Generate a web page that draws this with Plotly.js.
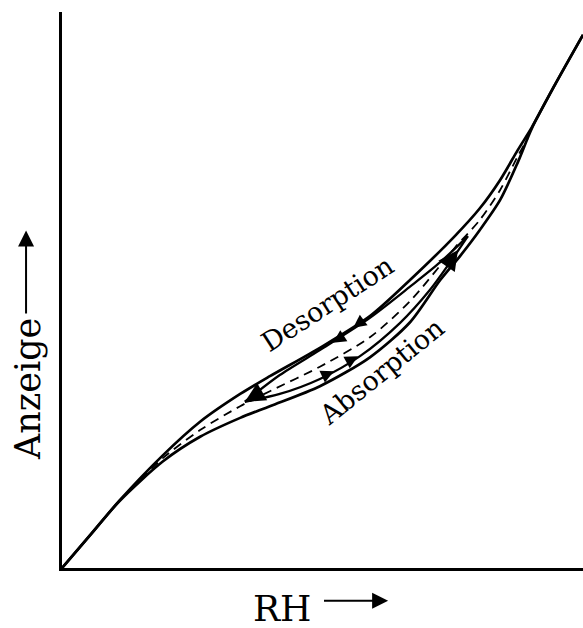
<!DOCTYPE html>
<html>
<head>
<meta charset="utf-8">
<script src="https://cdn.plot.ly/plotly-3.0.1.min.js"></script>
<style>html,body{margin:0;padding:0;background:#fff;}#chart{width:583px;height:628px;}</style>
</head>
<body>
<div id="chart"></div>
<script>
// Relative humidity (x, 0..100) and indicator reading (y, 0..100)
const desOuterX = [0, 5.4, 11.1, 19.4, 26.5, 34.2, 39.9, 49.5, 59.1, 66.8, 75.4, 80.2, 84.1, 87.5, 90.2, 94.6, 100];
const desOuterY = [0, 5.9, 12.2, 20.3, 26.3, 31.3, 34.5, 39.6, 45.3, 51.8, 59.7, 64.7, 69.8, 75.2, 79.3, 86.9, 95.9];
const absOuterX = [0, 5.4, 11.1, 19.4, 26.5, 34.2, 39.9, 49.5, 59.1, 66.8, 72.6, 76.4, 80.2, 84.1, 87.5, 90.2, 94.6, 100];
const absOuterY = [0, 5.9, 12.1, 19.2, 23.6, 27.0, 29.1, 32.7, 37.9, 44.2, 51.8, 56.1, 60.8, 66.2, 73.0, 79.1, 86.9, 95.9];
const midX = [13.1, 19.4, 26.5, 34.2, 39.9, 49.5, 59.1, 66.8, 75.4, 80.2, 84.1, 87.5, 89.4];
const midY = [14.0, 19.8, 24.8, 29.1, 31.8, 36.2, 41.5, 48.0, 57.6, 62.6, 68.0, 74.1, 77.3];
const desInnerX = [77.9, 72.6, 66.8, 59.1, 49.5, 41.8, 35.1];
const desInnerY = [59.7, 55.0, 50.6, 45.0, 39.2, 34.7, 29.9];
const absInnerX = [35.1, 41.8, 49.5, 57.2, 64.9, 70.6, 74.5, 77.9];
const absInnerY = [29.9, 31.3, 34.0, 38.1, 44.1, 50.0, 55.0, 59.7];
// arrow heads [headX, headY, tailX, tailY, size]
const desArrows = [[52.0, 40.5, 54.3, 41.9, 1.3], [55.9, 43.2, 58.2, 44.8, 1.3], [35.1, 29.9, 38.4, 31.7, 2.0]];
const absArrows = [[52.2, 35.4, 49.9, 34.4, 1.3], [56.8, 38.1, 54.5, 36.9, 1.3], [76.0, 57.2, 74.3, 54.9, 2.0]];
const labels = ["Desorption", "Absorption", "Anzeige", "RH"];

const serif = "DejaVu Serif, Liberation Serif, serif";
const line = (x, y, w, dash) => ({x, y, type: "scatter", mode: "lines", line: {color: "#000", width: w, dash: dash || "solid", shape: "spline", smoothing: 0.8}, hoverinfo: "skip", showlegend: false});

const data = [
  line(desOuterX, desOuterY, 2.7),
  line(absOuterX, absOuterY, 2.7),
  line(midX, midY, 1.8, "9px,6px"),
  line(desInnerX, desInnerY, 2.3),
  line(absInnerX, absInnerY, 2.3)
];

const ann = [];
[...desArrows, ...absArrows].forEach(a => ann.push({
  x: a[0], y: a[1], ax: a[2], ay: a[3], xref: "x", yref: "y", axref: "x", ayref: "y",
  text: "", showarrow: true, arrowhead: 2, arrowsize: a[4], arrowwidth: 2, arrowcolor: "#000"
}));
ann.push({x: 51.0, y: 47.5, xref: "x", yref: "y", xanchor: "center", yanchor: "middle", text: labels[0], showarrow: false, textangle: -33, font: {family: serif, size: 27, color: "#000"}});
ann.push({x: 61.3, y: 35.3, xref: "x", yref: "y", xanchor: "center", yanchor: "middle", text: labels[1], showarrow: false, textangle: -39, font: {family: serif, size: 27, color: "#000"}});
ann.push({x: -0.0653, y: 0.322, xref: "paper", yref: "paper", xanchor: "center", yanchor: "middle", text: labels[2], showarrow: false, textangle: -90, font: {family: serif, size: 35, color: "#000"}});
ann.push({x: 0.4223, y: -0.072, xref: "paper", yref: "paper", xanchor: "center", yanchor: "middle", text: labels[3], showarrow: false, font: {family: serif, size: 36, color: "#000"}});
// axis-title arrows
ann.push({x: -0.069, y: 0.607, ax: -0.069, ay: 0.455, xref: "paper", yref: "paper", axref: "paper", ayref: "paper", text: "", showarrow: true, arrowhead: 2, arrowsize: 1.6, arrowwidth: 2, arrowcolor: "#000"});
ann.push({x: 0.626, y: -0.059, ax: 0.500, ay: -0.059, xref: "paper", yref: "paper", axref: "paper", ayref: "paper", text: "", showarrow: true, arrowhead: 2, arrowsize: 1.6, arrowwidth: 2, arrowcolor: "#000"});

const layout = {
  width: 583, height: 628,
  margin: {l: 62, r: 0, t: 12, b: 60},
  paper_bgcolor: "#fff", plot_bgcolor: "#fff",
  xaxis: {range: [0, 100], showgrid: false, zeroline: false, showticklabels: false, ticks: "", showline: true, linecolor: "#000", linewidth: 3},
  yaxis: {range: [0, 100], showgrid: false, zeroline: false, showticklabels: false, ticks: "", showline: true, linecolor: "#000", linewidth: 3},
  annotations: ann,
  showlegend: false
};
Plotly.newPlot("chart", data, layout, {staticPlot: true});
</script>
</body>
</html>
